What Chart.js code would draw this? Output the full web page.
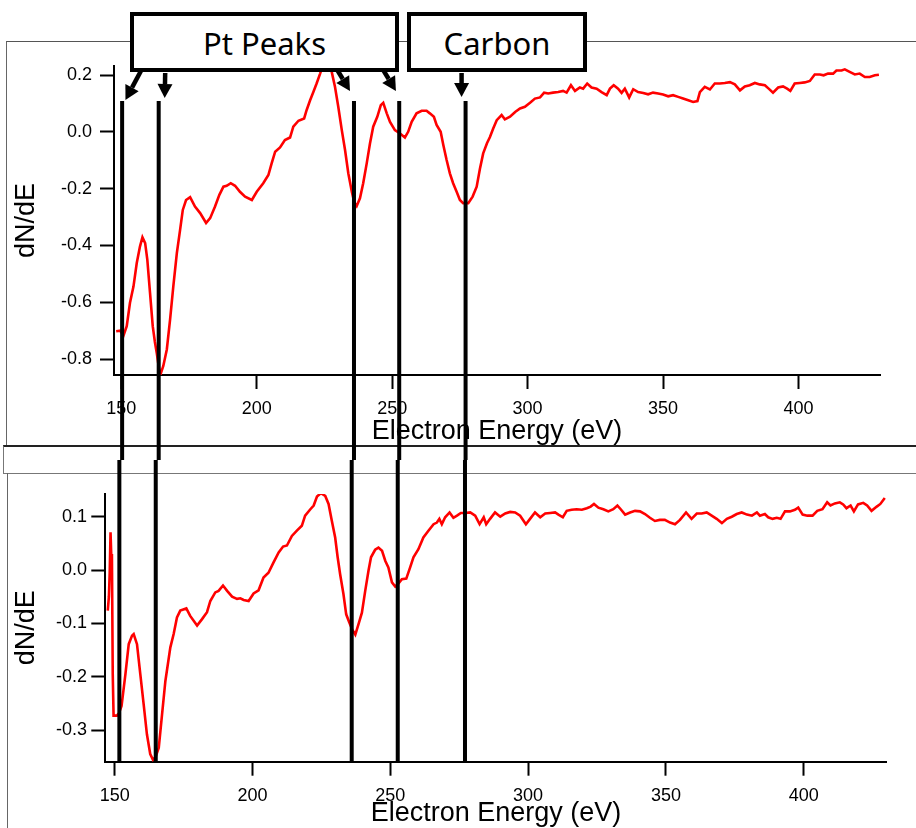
<!DOCTYPE html>
<html>
<head>
<meta charset="utf-8">
<title>dN/dE spectra</title>
<script src="https://cdn.jsdelivr.net/npm/chart.js@4.4.0/dist/chart.umd.min.js"></script>
<style>
  html, body { margin: 0; padding: 0; background: #fff; }
  #page { position: relative; width: 916px; height: 828px; overflow: hidden; }
  .rule { position: absolute; box-sizing: border-box; }
  #topFrame { left: 6px; top: 41px; width: 940px; height: 406px; border-top: 1.5px solid #555; border-left: 1.5px solid #666; }
  #midBand { left: 3px; top: 445px; width: 940px; height: 29px; border: 1.5px solid #777; border-top: 2px solid #222; }
  #bottomFrame { left: 7px; top: 473px; width: 4px; height: 360px; border-left: 1.5px solid #666; }
  canvas { position: absolute; left: 0; }
  #topChart { top: 0; }
  #bottomChart { top: 460px; }
  .tag {
    position: absolute; top: 12px; height: 60px; box-sizing: border-box;
    border: 4.5px solid #000; background: #fff; z-index: 2;
    font-family: "Noto Sans"; font-size: 31px; color: #000;
    display: flex; align-items: center; justify-content: center; padding-top: 2px;
  }
  #ptTag { left: 130px; width: 269px; }
  #cTag { left: 407px; width: 180px; }
</style>
</head>
<body>
<div id="page">
  <div id="topFrame" class="rule"></div>
  <div id="midBand" class="rule"></div>
  <div id="bottomFrame" class="rule"></div>
  <canvas id="topChart" width="916" height="460"></canvas>
  <canvas id="bottomChart" width="916" height="372"></canvas>
  <div id="ptTag" class="tag">Pt Peaks</div>
  <div id="cTag" class="tag">Carbon</div>
</div>
<script>
// upper spectrum
const topEnergy = [
  148.1, 149.6, 150.8, 152.0, 153.2, 154.5, 155.7, 156.9, 157.8, 158.8,
  159.6, 160.6, 161.6, 162.4, 163.1, 164.1, 164.6, 165.5, 166.8, 168.0,
  169.2, 170.5, 171.7, 172.7, 173.9, 175.4, 177.2, 179.1, 181.3, 182.8,
  184.6, 186.2, 187.7, 188.9, 190.4, 192.0, 193.8, 195.7, 198.2, 200.0,
  202.4, 204.3, 205.5, 206.8, 208.6, 210.4, 212.3, 213.5, 215.4, 217.5,
  218.4, 219.7, 220.9, 222.1, 223.4, 224.6, 226.2, 227.7, 228.9, 230.1,
  231.4, 232.6, 233.8, 235.1, 236.0, 236.9, 238.1, 239.3, 240.6, 241.8,
  243.0, 244.5, 245.8, 246.7, 248.0, 249.2, 251.0, 252.9, 254.7, 255.9,
  257.2, 259.0, 260.9, 262.7, 263.9, 265.4, 266.4, 267.9, 268.9, 270.1,
  271.3, 272.5, 273.8, 275.0, 276.2, 278.1, 279.7, 281.2, 282.4, 283.6,
  285.0, 286.1, 287.3, 288.6, 290.4, 291.6, 293.5, 295.4, 297.2, 299.0,
  300.9, 302.7, 304.6, 306.1, 307.6, 309.4, 311.3, 313.1, 314.4, 316.0,
  317.5, 319.3, 320.5, 322.0, 323.6, 325.5, 327.3, 329.2, 330.4, 331.8,
  333.4, 334.7, 335.9, 337.5, 339.0, 340.8, 342.7, 344.5, 346.3, 348.2,
  350.0, 351.9, 353.7, 355.6, 357.4, 359.3, 361.1, 362.7, 363.6, 365.4,
  367.3, 369.1, 371.0, 372.8, 374.7, 376.5, 378.4, 380.2, 382.0, 383.9,
  385.7, 387.6, 389.0, 390.6, 392.5, 394.3, 395.8, 397.0, 398.6, 400.5,
  402.3, 404.2, 406.0, 407.9, 409.3, 410.9, 412.8, 414.0, 415.9, 417.1,
  418.9, 420.8, 422.6, 424.5, 426.3, 428.2, 429.7
];
const topDnde = [
  -0.702, -0.700, -0.717, -0.684, -0.602, -0.544, -0.462, -0.403, -0.371, -0.392,
  -0.450, -0.567, -0.684, -0.740, -0.780, -0.846, -0.850, -0.824, -0.766, -0.661,
  -0.544, -0.427, -0.345, -0.275, -0.240, -0.230, -0.263, -0.286, -0.321, -0.304,
  -0.263, -0.222, -0.193, -0.190, -0.181, -0.190, -0.211, -0.228, -0.240, -0.211,
  -0.181, -0.152, -0.111, -0.070, -0.055, -0.029, -0.020, 0.018, 0.039, 0.047,
  0.076, 0.111, 0.140, 0.170, 0.205, 0.240, 0.262, 0.210, 0.158, 0.088,
  0.006, -0.064, -0.146, -0.211, -0.248, -0.261, -0.234, -0.181, -0.111, -0.041,
  0.018, 0.053, 0.094, 0.102, 0.065, 0.035, 0.006, -0.006, -0.020, 0.000,
  0.035, 0.065, 0.074, 0.074, 0.065, 0.053, 0.024, 0.000, -0.047, -0.099,
  -0.146, -0.181, -0.211, -0.240, -0.251, -0.251, -0.228, -0.193, -0.130, -0.076,
  -0.040, -0.018, 0.012, 0.041, 0.059, 0.044, 0.053, 0.070, 0.082, 0.088,
  0.102, 0.117, 0.121, 0.138, 0.135, 0.138, 0.140, 0.144, 0.138, 0.164,
  0.144, 0.156, 0.152, 0.170, 0.156, 0.152, 0.140, 0.129, 0.152, 0.164,
  0.152, 0.137, 0.152, 0.121, 0.150, 0.140, 0.137, 0.132, 0.138, 0.135,
  0.131, 0.125, 0.129, 0.123, 0.117, 0.111, 0.105, 0.108, 0.140, 0.158,
  0.149, 0.170, 0.170, 0.172, 0.175, 0.167, 0.146, 0.160, 0.164, 0.172,
  0.167, 0.164, 0.152, 0.138, 0.156, 0.160, 0.152, 0.144, 0.170, 0.172,
  0.174, 0.179, 0.202, 0.202, 0.199, 0.205, 0.205, 0.216, 0.216, 0.220,
  0.211, 0.202, 0.205, 0.193, 0.193, 0.199, 0.201
];

// lower spectrum
const bottomEnergy = [
  147.5, 147.9, 148.2, 148.5, 148.8, 149.0, 149.3, 149.6, 150.8, 151.6,
  152.5, 153.9, 155.1, 156.3, 156.9, 158.1, 159.3, 160.5, 161.7, 162.9,
  163.9, 164.9, 166.0, 167.2, 168.4, 170.2, 171.4, 172.6, 173.8, 176.0,
  177.4, 179.9, 181.7, 183.5, 184.7, 186.5, 187.7, 189.3, 190.8, 192.6,
  194.4, 195.6, 196.8, 198.6, 200.4, 202.2, 204.0, 205.8, 207.6, 209.5,
  211.1, 212.5, 214.3, 216.1, 217.9, 219.1, 221.0, 222.2, 223.4, 224.8,
  226.4, 227.6, 228.8, 230.0, 230.9, 231.8, 233.0, 234.0, 235.1, 236.2,
  237.3, 238.5, 239.7, 240.9, 242.1, 243.0, 244.5, 245.7, 247.0, 248.2,
  249.3, 250.6, 251.8, 253.0, 254.2, 255.8, 257.2, 258.4, 260.2, 262.0,
  263.9, 265.7, 266.9, 267.8, 268.7, 269.9, 271.5, 272.9, 274.2, 275.6,
  277.2, 279.0, 280.8, 282.4, 283.9, 284.8, 286.2, 288.0, 289.9, 291.7,
  293.5, 295.3, 297.1, 299.2, 300.7, 302.5, 304.4, 306.2, 308.0, 309.8,
  311.0, 312.6, 314.0, 315.8, 317.6, 319.5, 321.3, 322.7, 323.9, 325.5,
  327.3, 329.1, 330.9, 332.4, 333.6, 335.2, 337.0, 338.8, 340.6, 342.4,
  344.2, 346.0, 347.8, 349.6, 351.5, 353.3, 355.1, 357.3, 359.3, 361.2,
  363.0, 364.8, 366.6, 368.4, 370.3, 372.1, 373.9, 375.7, 377.5, 379.4,
  381.2, 383.0, 384.1, 385.9, 387.1, 388.7, 390.2, 391.6, 393.2, 395.0,
  396.8, 398.0, 399.6, 401.3, 403.2, 404.9, 406.8, 408.5, 409.7, 411.3,
  413.1, 414.3, 415.5, 417.0, 418.2, 419.7, 421.6, 423.0, 424.6, 426.5,
  427.8, 429.4
];
const bottomDnde = [
  -0.076, -0.050, -0.005, 0.071, 0.022, 0.030, -0.195, -0.273, -0.273, -0.268,
  -0.255, -0.195, -0.139, -0.123, -0.120, -0.139, -0.195, -0.251, -0.308, -0.345,
  -0.356, -0.350, -0.333, -0.270, -0.208, -0.145, -0.120, -0.089, -0.076, -0.072,
  -0.086, -0.104, -0.092, -0.079, -0.058, -0.042, -0.039, -0.029, -0.039, -0.050,
  -0.054, -0.053, -0.056, -0.058, -0.044, -0.038, -0.014, -0.005, 0.014, 0.033,
  0.044, 0.046, 0.064, 0.074, 0.083, 0.102, 0.114, 0.121, 0.138, 0.144,
  0.139, 0.124, 0.092, 0.061, 0.024, -0.008, -0.045, -0.083, -0.098, -0.112,
  -0.121, -0.101, -0.080, -0.039, -0.001, 0.024, 0.038, 0.042, 0.036, 0.017,
  0.005, -0.023, -0.031, -0.025, -0.017, -0.016, 0.005, 0.024, 0.039, 0.061,
  0.074, 0.086, 0.089, 0.096, 0.086, 0.099, 0.108, 0.098, 0.102, 0.107,
  0.107, 0.108, 0.102, 0.086, 0.099, 0.086, 0.096, 0.108, 0.100, 0.106,
  0.109, 0.108, 0.102, 0.086, 0.096, 0.108, 0.099, 0.106, 0.107, 0.108,
  0.104, 0.099, 0.111, 0.113, 0.114, 0.113, 0.116, 0.119, 0.124, 0.117,
  0.114, 0.110, 0.114, 0.121, 0.114, 0.104, 0.108, 0.111, 0.110, 0.105,
  0.098, 0.092, 0.094, 0.094, 0.089, 0.086, 0.094, 0.108, 0.096, 0.106,
  0.106, 0.108, 0.102, 0.096, 0.088, 0.096, 0.100, 0.105, 0.108, 0.104,
  0.102, 0.108, 0.102, 0.105, 0.099, 0.096, 0.098, 0.096, 0.110, 0.110,
  0.113, 0.117, 0.104, 0.102, 0.102, 0.111, 0.114, 0.127, 0.121, 0.125,
  0.127, 0.123, 0.116, 0.121, 0.110, 0.123, 0.126, 0.121, 0.111, 0.119,
  0.124, 0.135
];

const energyTicks = [150, 200, 250, 300, 350, 400];
const topTicks = [-0.8, -0.6, -0.4, -0.2, 0.0, 0.2];
const bottomTicks = [-0.3, -0.2, -0.1, 0.0, 0.1];

// marked peak energies (Pt x4, C x1)
const topPeaks = [150.3, 163.8, 235.9, 252.6, 277.1];
const bottomPeaks = [151.7, 164.9, 236.0, 252.7, 277.1];

function drawArrow(ctx, x1, y1, x2, y2) {
  const a = Math.atan2(y2 - y1, x2 - x1);
  const head = 14, half = 7.5;
  const bx = x2 - head * Math.cos(a), by = y2 - head * Math.sin(a);
  ctx.lineWidth = 4.5;
  ctx.beginPath();
  ctx.moveTo(x1, y1);
  ctx.lineTo(bx, by);
  ctx.stroke();
  ctx.beginPath();
  ctx.moveTo(x2, y2);
  ctx.lineTo(bx + half * Math.sin(a), by - half * Math.cos(a));
  ctx.lineTo(bx - half * Math.sin(a), by + half * Math.cos(a));
  ctx.closePath();
  ctx.fill();
}

// vertical peak lines, plus the arrows from the labels on the upper plot
const peakLines = {
  id: 'peakLines',
  afterDatasetsDraw(chart, args, opts) {
    const { ctx, chartArea, scales: { x } } = chart;
    const y0 = opts.top;
    const y1 = opts.toCanvasEnd ? chart.height : chartArea.bottom + 1;
    ctx.save();
    ctx.strokeStyle = '#000';
    ctx.fillStyle = '#000';
    ctx.lineWidth = 4;
    opts.energies.forEach(e => {
      const px = x.getPixelForValue(e);
      ctx.beginPath();
      ctx.moveTo(px, y0);
      ctx.lineTo(px, y1);
      ctx.stroke();
    });
    (opts.arrows || []).forEach((ar, i) => {
      const px = x.getPixelForValue(opts.energies[i]);
      drawArrow(ctx, px + ar.tail[0], ar.tail[1], px + ar.tip[0], ar.tip[1]);
    });
    ctx.restore();
  }
};

const axisFont = { family: 'Liberation Sans', size: 18 };
const titleFont = { family: 'Liberation Sans', size: 27 };

function spectrumChart(id, energy, dnde, cfg) {
  return new Chart(document.getElementById(id), {
    type: 'line',
    data: {
      datasets: [{
        data: energy.map((e, i) => ({ x: e, y: dnde[i] })),
        borderColor: '#ff0000',
        borderWidth: 2.6,
        pointRadius: 0,
        tension: 0
      }]
    },
    options: {
      responsive: false,
      animation: false,
      events: [],
      devicePixelRatio: 1,
      layout: { padding: cfg.padding },
      plugins: {
        legend: { display: false },
        tooltip: { enabled: false },
        peakLines: cfg.lines
      },
      scales: {
        x: {
          type: 'linear',
          min: cfg.xMin,
          max: cfg.xMax,
          afterFit: s => { s.height = cfg.xHeight; },
          afterBuildTicks: s => { s.ticks = energyTicks.map(v => ({ value: v })); },
          grid: { drawOnChartArea: false, tickLength: 14, tickWidth: 2, tickColor: '#000' },
          border: { color: '#000', width: 2 },
          ticks: { color: '#000', font: axisFont, padding: cfg.xPad, maxRotation: 0 },
          title: {
            display: true, text: 'Electron Energy (eV)', color: '#000', font: titleFont,
            padding: { top: 0, bottom: cfg.xTitlePad }
          }
        },
        y: {
          min: cfg.yMin,
          max: cfg.yMax,
          afterFit: s => { s.width = cfg.yWidth; },
          afterBuildTicks: s => { s.ticks = cfg.yTicks.map(v => ({ value: v })); },
          grid: { drawOnChartArea: false, tickLength: 14, tickWidth: 2, tickColor: '#000' },
          border: { color: '#000', width: 2 },
          ticks: { color: '#000', font: axisFont, padding: cfg.yPad, callback: v => v.toFixed(1) },
          title: {
            display: true, text: 'dN/dE', color: '#000', font: titleFont,
            padding: { top: 10, bottom: 0 }
          }
        }
      }
    },
    plugins: [peakLines]
  });
}

spectrumChart('topChart', topEnergy, topDnde, {
  padding: { top: 66, left: 0, right: 36, bottom: 0 },
  xMin: 147.3, xMax: 430.1, yMin: -0.856, yMax: 0.2317,
  xHeight: 85, yWidth: 114, xPad: 9, yPad: 8, xTitlePad: 12,
  yTicks: topTicks,
  lines: {
    energies: topPeaks, top: 101, toCanvasEnd: true,
    arrows: [
      { tail: [19.3, 70], tip: [3.3, 100] },
      { tail: [6.5, 73], tip: [6, 98] },
      { tail: [-16.7, 70], tip: [-4, 91] },
      { tail: [-16, 70], tip: [-3.3, 91] },
      { tail: [-4, 73], tip: [-4, 97] }
    ]
  }
});

spectrumChart('bottomChart', bottomEnergy, bottomDnde, {
  padding: { top: 34, left: 0, right: 29.3, bottom: 0 },
  xMin: 146.6, xMax: 430.1, yMin: -0.3594, yMax: 0.1426,
  xHeight: 70.3, yWidth: 105.3, xPad: 9.5, yPad: 4.4, xTitlePad: 2,
  yTicks: bottomTicks,
  lines: { energies: bottomPeaks, top: 0, toCanvasEnd: false }
});
</script>
</body>
</html>
